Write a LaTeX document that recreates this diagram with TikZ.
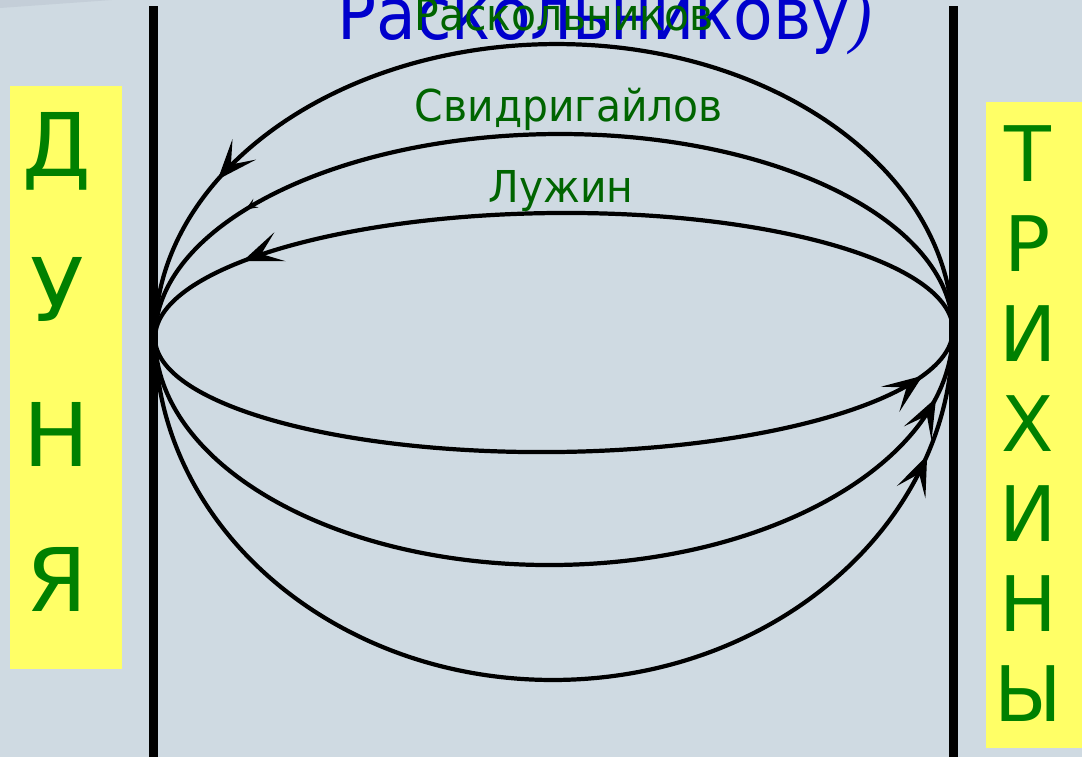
\documentclass[tikz,border=0pt]{standalone}
\usepackage{fontspec}
\usepackage{graphicx}
\setmainfont{DejaVu Sans}
\newfontfamily\skobka{Liberation Serif}
\usetikzlibrary{arrows.meta,decorations.markings}
\definecolor{slidebg}{RGB}{207,218,226}
\definecolor{slidewedge}{RGB}{196,206,216}
\definecolor{plashka}{RGB}{255,255,102}
\definecolor{bukva}{RGB}{0,128,0}
\definecolor{imya}{RGB}{0,100,0}
\definecolor{zagl}{RGB}{0,0,204}
\begin{document}
\begin{tikzpicture}[x=0.02cm,y=0.02cm,line cap=round,
  duga/.style={line width=2.4pt},
  strelka/.style={postaction={decorate},decoration={markings,
    mark=at position #1 with {\arrow{Stealth[length=0.8cm,width=0.62cm,inset=0.4cm]}}}},
  strelkamal/.style={postaction={decorate},decoration={markings,
    mark=at position #1 with {\arrow{Stealth[length=0.24cm,width=0.2cm,inset=0.1cm]}}}},
  bukvaL/.style={anchor=base,inner sep=0,text=bukva,font=\fontsize{50}{56}\selectfont},
  bukvaR/.style={anchor=base,inner sep=0,text=bukva,font=\fontsize{43.6}{50}\selectfont},
  imyanode/.style={anchor=base,inner sep=0,text=imya,font=\fontsize{25}{30}\selectfont}]
  \useasboundingbox (0,0) rectangle (1082,757);
  \clip (0,0) rectangle (1082,757);
  \fill[slidebg] (0,0) rectangle (1082,757);
  \fill[slidewedge] (0,757) -- (112,757) -- (0,749) -- cycle;
  \fill[plashka] (10,88) rectangle (122,671);
  \fill[plashka] (986,9) rectangle (1082,655);
  \foreach \b [count=\i from 0] in {Д,У,Н,Я}
    \node[bukvaL] (dunya\i) at (57,580-145*\i) {\b};
  \foreach \b [count=\i from 0] in {Т,Р,И,Х,И,Н,Ы}
    \node[bukvaR] (trix\i) at (1028,575-90*\i) {\b};
  \draw[line width=5.1pt,line cap=butt] (153.5,0) -- (153.5,751);
  \draw[line width=5.1pt,line cap=butt] (953.5,0) -- (953.5,751);
  \coordinate (dunya) at (155,419);
  \coordinate (trix) at (953,427);
  \draw[duga,strelka=0.84,rotate around={0.57:(trix)}] (trix)
    arc[start angle=0,end angle=180,x radius=7.98cm,y radius=5.8cm];
  \draw[duga,strelkamal=0.83,rotate around={0.57:(trix)}] (trix)
    arc[start angle=0,end angle=180,x radius=7.98cm,y radius=4cm];
  \draw[duga,strelka=0.86,rotate around={0.57:(trix)}] (trix)
    arc[start angle=0,end angle=180,x radius=7.98cm,y radius=2.42cm];
  \draw[duga,strelka=0.935,rotate around={0.57:(dunya)}] (dunya)
    arc[start angle=180,end angle=360,x radius=7.98cm,y radius=2.36cm];
  \draw[duga,strelka=0.93,rotate around={0.57:(dunya)}] (dunya)
    arc[start angle=180,end angle=360,x radius=7.98cm,y radius=4.62cm];
  \draw[duga,strelka=0.89,rotate around={0.57:(dunya)}] (dunya)
    arc[start angle=180,end angle=360,x radius=7.98cm,y radius=6.92cm];
  \node[anchor=base west,inner sep=0,text=zagl,font=\fontsize{41}{48}\selectfont] (raskbig)
    at (337,717) {\scalebox{0.9}[1]{Раскольникову{\skobka\itshape)}}};
  \node[imyanode] (rasksmall) at (564,726) {\scalebox{0.93}[1]{Раскольников}};
  \node[imyanode] (svidr) at (569,635) {\scalebox{0.93}[1]{Свидригайлов}};
  \node[imyanode] (luzh) at (561,554) {\scalebox{0.93}[1]{Лужин}};
\end{tikzpicture}
\end{document}
